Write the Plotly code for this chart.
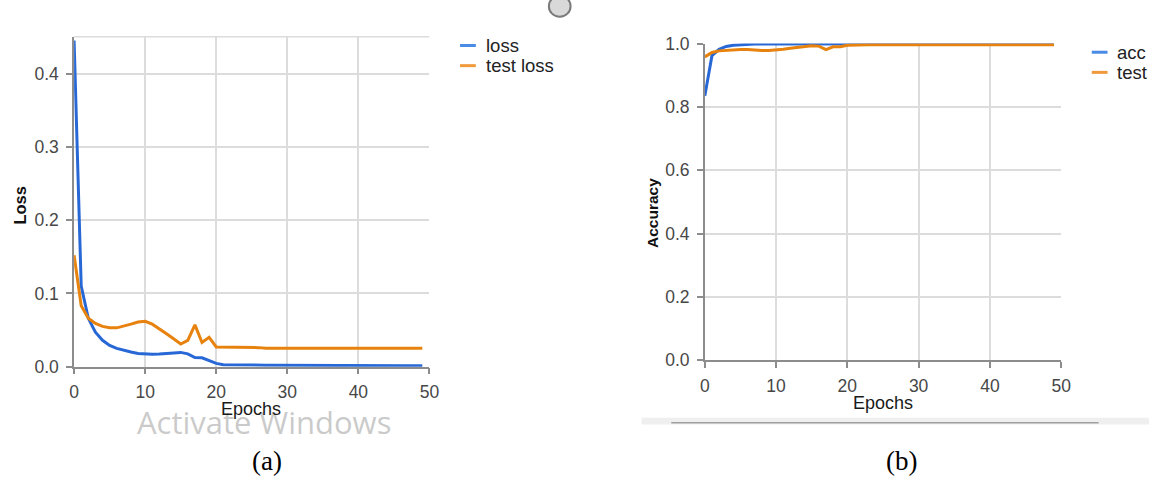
import plotly.graph_objects as go

W, H = 1159, 495

# ---- training history -------------------------------------------------
epochs = list(range(50))

loss = [0.445, 0.110, 0.066, 0.047, 0.036, 0.029, 0.025, 0.022, 0.020, 0.018,
        0.0172, 0.0168, 0.0172, 0.018, 0.019, 0.0195, 0.0175, 0.0125, 0.0122, 0.0085,
        0.0045, 0.0028, 0.0025, 0.0024, 0.0023, 0.0022, 0.0021, 0.0020, 0.0020, 0.0019,
        0.0019, 0.0018, 0.0018, 0.0017, 0.0017, 0.0016, 0.0016, 0.0016, 0.0015, 0.0015,
        0.0015, 0.0014, 0.0014, 0.0014, 0.0013, 0.0013, 0.0013, 0.0012, 0.0012, 0.0012]

test_loss = [0.152, 0.083, 0.066, 0.059, 0.055, 0.053, 0.053, 0.055, 0.058, 0.061,
             0.062, 0.058, 0.052, 0.045, 0.038, 0.031, 0.036, 0.057, 0.033, 0.040,
             0.027, 0.027, 0.026, 0.026, 0.026, 0.026, 0.026, 0.025, 0.025, 0.025,
             0.025, 0.025, 0.025, 0.025, 0.025, 0.025, 0.025, 0.025, 0.025, 0.025,
             0.025, 0.025, 0.025, 0.025, 0.025, 0.025, 0.025, 0.025, 0.025, 0.025]

acc = [0.835, 0.962, 0.982, 0.991, 0.995, 0.997, 0.998, 0.999, 0.999, 0.999,
       0.999, 0.999, 0.999, 0.999, 0.999, 0.999, 0.999, 0.999, 0.999, 0.999,
       1.0, 1.0, 1.0, 1.0, 1.0, 1.0, 1.0, 1.0, 1.0, 1.0,
       1.0, 1.0, 1.0, 1.0, 1.0, 1.0, 1.0, 1.0, 1.0, 1.0,
       1.0, 1.0, 1.0, 1.0, 1.0, 1.0, 1.0, 1.0, 1.0, 1.0]

test_acc = [0.958, 0.972, 0.977, 0.979, 0.980, 0.981, 0.981, 0.979, 0.978, 0.978,
            0.979, 0.982, 0.985, 0.988, 0.991, 0.993, 0.992, 0.981, 0.990, 0.990,
            0.995, 0.996, 0.996, 0.996, 0.996, 0.996, 0.996, 0.996, 0.996, 0.996,
            0.996, 0.996, 0.996, 0.996, 0.996, 0.996, 0.996, 0.996, 0.996, 0.996,
            0.996, 0.996, 0.996, 0.996, 0.996, 0.996, 0.996, 0.996, 0.996, 0.996]

x_ticks = [0, 10, 20, 30, 40, 50]
loss_ticks = [0.0, 0.1, 0.2, 0.3, 0.4]
acc_ticks = [0.0, 0.2, 0.4, 0.6, 0.8, 1.0]

BLUE = "#2768d6"
ORANGE = "#e8820e"
GRID = "#dcdcdc"
AXIS = "#8c8c8c"
FONT = "Liberation Sans, Arial, sans-serif"


def px(x):
    return x / W


def py(y):
    return 1 - y / H


fig = go.Figure()

fig.add_trace(go.Scatter(x=epochs, y=loss, mode="lines", name="loss",
                         line=dict(color=BLUE, width=3), xaxis="x", yaxis="y",
                         showlegend=False))
fig.add_trace(go.Scatter(x=epochs, y=test_loss, mode="lines", name="test loss",
                         line=dict(color=ORANGE, width=3), xaxis="x", yaxis="y",
                         showlegend=False))
fig.add_trace(go.Scatter(x=epochs, y=acc, mode="lines", name="acc",
                         line=dict(color=BLUE, width=3), xaxis="x2", yaxis="y2",
                         showlegend=False))
fig.add_trace(go.Scatter(x=epochs, y=test_acc, mode="lines", name="test",
                         line=dict(color=ORANGE, width=3), xaxis="x2", yaxis="y2",
                         showlegend=False))

tickfont = dict(family=FONT, size=17.5, color="#474747")
common_x = dict(range=[0, 50], tickvals=x_ticks, showgrid=True, gridcolor=GRID,
                gridwidth=1.5, showline=True, linecolor=AXIS, linewidth=1.5,
                ticks="outside", ticklen=6, tickcolor=AXIS, tickwidth=1.5,
                ticklabelstandoff=3,
                zeroline=False, tickfont=tickfont, fixedrange=True)
common_y = dict(showgrid=True, gridcolor=GRID, gridwidth=1.5, showline=True,
                linecolor=AXIS, linewidth=1.5, ticks="outside", ticklen=6,
                tickcolor=AXIS, tickwidth=1.5, zeroline=False, tickfont=tickfont,
                ticklabelstandoff=4,
                tickformat=".1f", fixedrange=True)

fig.update_layout(
    width=W, height=H,
    margin=dict(l=0, r=0, t=0, b=0),
    paper_bgcolor="white", plot_bgcolor="white",
    showlegend=False,
    xaxis=dict(domain=[px(70), px(430)], anchor="y", **common_x),
    yaxis=dict(domain=[py(371.7), py(28)], anchor="x", range=[0, 0.45],
               tickvals=loss_ticks, **common_y),
    xaxis2=dict(domain=[px(709), px(1070)], anchor="y2", **common_x),
    yaxis2=dict(domain=[py(365), py(35)], anchor="x2", range=[0, 1],
                tickvals=acc_ticks, **common_y),
)

shapes = []
annotations = []

# top border of the loss panel
shapes.append(dict(type="line", xref="paper", yref="paper",
                   x0=px(70), x1=px(430), y0=py(28), y1=py(28),
                   line=dict(color=GRID, width=1.5)))


# hand-placed legends
def legend_item(x_line, y, color, text):
    shapes.append(dict(type="line", xref="paper", yref="paper",
                       x0=px(x_line), x1=px(x_line + 16), y0=py(y), y1=py(y),
                       line=dict(color=color, width=3)))
    annotations.append(dict(xref="paper", yref="paper", x=px(x_line + 24), y=py(y),
                            xanchor="left", yanchor="middle", showarrow=False,
                            text=text, font=dict(family=FONT, size=18.5, color="#222")))


legend_item(461, 37, "#4a8be6", "loss")
legend_item(461, 58, "#f19a3c", "test loss")
legend_item(1101, 44, "#4a8be6", "acc")
legend_item(1101, 65, "#f19a3c", "test")

# watermark text sitting beneath the left panel
annotations.append(dict(xref="paper", yref="paper", x=px(262), y=py(429),
                        xanchor="center", yanchor="middle", showarrow=False,
                        text="Activate Windows",
                        font=dict(family="Open Sans, sans-serif", size=31,
                                  color="rgba(150,150,150,0.5)")))

# axis titles
annotations.append(dict(xref="paper", yref="paper", x=px(249), y=py(416),
                        xanchor="center", yanchor="middle", showarrow=False,
                        text="Epochs", font=dict(family=FONT, size=18, color="#1a1a1a")))
annotations.append(dict(xref="paper", yref="paper", x=px(890), y=py(410),
                        xanchor="center", yanchor="middle", showarrow=False,
                        text="Epochs", font=dict(family=FONT, size=18, color="#1a1a1a")))
annotations.append(dict(xref="paper", yref="paper", x=px(15), y=py(203),
                        xanchor="center", yanchor="middle", showarrow=False,
                        textangle=-90, text="<b>Loss</b>",
                        font=dict(family=FONT, size=16.5, color="#111")))
annotations.append(dict(xref="paper", yref="paper", x=px(656), y=py(212),
                        xanchor="center", yanchor="middle", showarrow=False,
                        textangle=-90, text="<b>Accuracy</b>",
                        font=dict(family=FONT, size=15.5, color="#111")))

# panel captions
annotations.append(dict(xref="paper", yref="paper", x=px(265), y=py(470),
                        xanchor="center", yanchor="middle", showarrow=False,
                        text="(a)", font=dict(family="Liberation Serif, Times New Roman, serif",
                                              size=27, color="#000")))
annotations.append(dict(xref="paper", yref="paper", x=px(908), y=py(470),
                        xanchor="center", yanchor="middle", showarrow=False,
                        text="(b)", font=dict(family="Liberation Serif, Times New Roman, serif",
                                              size=27, color="#000")))

# grey strip below the accuracy panel
shapes.append(dict(type="rect", xref="paper", yref="paper",
                   x0=px(645), x1=1, y0=py(432), y1=py(425),
                   fillcolor="#efefef", line=dict(width=0), layer="below"))
shapes.append(dict(type="line", xref="paper", yref="paper",
                   x0=px(675), x1=px(1108), y0=py(430), y1=py(430),
                   line=dict(color="#a0a0a0", width=1.5)))

# partially visible round icon at the top edge
shapes.append(dict(type="circle", xref="paper", yref="paper",
                   x0=px(551), x1=px(573), y0=py(7), y1=py(-15),
                   fillcolor="#d9d9d9", line=dict(color="#7a7a7a", width=2)))

fig.update_layout(shapes=shapes, annotations=annotations)

fig.write_html("out.html", config={"displayModeBar": False})
